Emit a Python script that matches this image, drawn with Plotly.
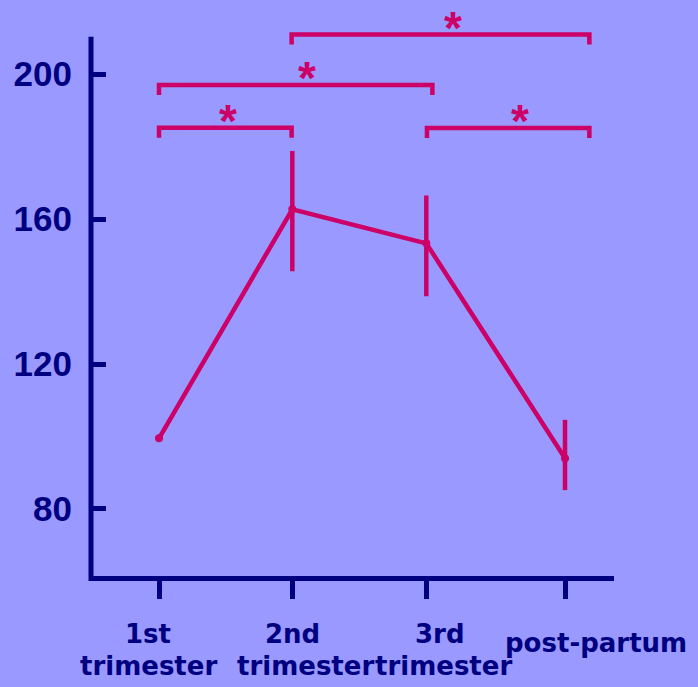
import plotly.graph_objects as go

# ---- data ----
categories = ["1st trimester", "2nd trimester", "3rd trimester", "post-partum"]
x_pos = [1, 1.985, 2.975, 4]
means = [99.5, 162.7, 153.3, 94.0]
err_plus = [0.0, 16.1, 13.2, 10.6]
err_minus = [0.0, 17.1, 14.6, 8.8]

label_line1 = ["1st", "2nd", "3rd", "post-partum"]
label_line2 = ["trimester", "trimester", "trimester", ""]

y_tick_vals = [80, 120, 160, 200]

# significance brackets (x in category units, y in data units)
sig_left = [1.0, 1.0, 1.98, 2.98]
sig_right = [1.98, 3.02, 4.18, 4.18]
sig_level = [185.2, 197.0, 210.9, 185.1]
sig_star_x = [1.51, 2.09, 3.17, 3.67]
sig_text = ["*", "*", "*", "*"]

# ---- style ----
BG = "#9999ff"
NAVY = "#000080"
MAG = "#cc0066"
W, H = 698, 687
ML, MR, MT, MB = 91, 84, 27.2, 110.5
YMIN, YMAX = 61.5, 213.0
XMIN, XMAX = 0.4975, 4.362
AXIS_TOP = 210.3
plot_h = H - MT - MB
px_per_unit = plot_h / (YMAX - YMIN)

fig = go.Figure()
fig.add_trace(go.Scatter(
    x=x_pos, y=means, mode="lines+markers",
    line=dict(color=MAG, width=4.5),
    marker=dict(color=MAG, size=8),
    error_y=dict(type="data", array=err_plus, arrayminus=err_minus,
                 color=MAG, thickness=4.5, width=0, symmetric=False),
    showlegend=False, hoverinfo="skip",
))

shapes = []
drop = 10 / px_per_unit
for x0, x1, lv in zip(sig_left, sig_right, sig_level):
    shapes.append(dict(
        type="path", xref="x", yref="y",
        path=f"M {x0},{lv - drop} L {x0},{lv} L {x1},{lv} L {x1},{lv - drop}",
        line=dict(color=MAG, width=4.5),
    ))
# y axis line
shapes.append(dict(
    type="line", xref="paper", yref="paper",
    x0=0, x1=0, y0=-5 / plot_h, y1=(AXIS_TOP - YMIN) / (YMAX - YMIN),
    line=dict(color=NAVY, width=5),
))

annotations = []
for sx, lv, t in zip(sig_star_x, sig_level, sig_text):
    annotations.append(dict(
        x=sx, y=lv, xref="x", yref="y", text=t, showarrow=False,
        yanchor="middle", xanchor="center", yshift=7,
        font=dict(family="Liberation Sans", size=46, color=MAG, weight="bold"),
    ))

bottom_px = H - MB
line1_x = [0.919, 1.986, 3.076, 4.229]
line2_x = [0.919, 2.079, 3.099, 4.229]
line1_py = [634, 634, 634, 643]
line2_py = [666, 666, 666, 666]
for i in range(len(categories)):
    annotations.append(dict(
        x=line1_x[i], y=0, xref="x", yref="paper", text=label_line1[i],
        showarrow=False, yanchor="middle", xanchor="center",
        yshift=-(line1_py[i] - bottom_px),
        font=dict(family="DejaVu Sans", size=26, color=NAVY, weight="bold"),
    ))
    if label_line2[i]:
        annotations.append(dict(
            x=line2_x[i], y=0, xref="x", yref="paper", text=label_line2[i],
            showarrow=False, yanchor="middle", xanchor="center",
            yshift=-(line2_py[i] - bottom_px),
            font=dict(family="DejaVu Sans", size=26, color=NAVY, weight="bold"),
        ))

fig.update_layout(
    width=W, height=H,
    margin=dict(l=ML, r=MR, t=MT, b=MB, pad=0),
    paper_bgcolor=BG, plot_bgcolor=BG,
    shapes=shapes, annotations=annotations,
    xaxis=dict(range=[XMIN, XMAX], tickvals=x_pos, showticklabels=False,
               showgrid=False, zeroline=False, showline=True,
               linecolor=NAVY, linewidth=5, ticks="outside",
               ticklen=18, tickwidth=5, tickcolor=NAVY),
    yaxis=dict(range=[YMIN, YMAX], tickvals=y_tick_vals, showgrid=False,
               zeroline=False, showline=False, ticks="inside", ticklen=15,
               tickwidth=5, tickcolor=NAVY, ticklabelstandoff=18,
               tickfont=dict(family="Liberation Sans", size=35, color=NAVY,
                             weight="bold")),
)

fig.write_html(
    "out.html",
    config={"displayModeBar": False},
    post_script="document.body.style.margin='0';document.body.style.overflow='hidden';",
)
